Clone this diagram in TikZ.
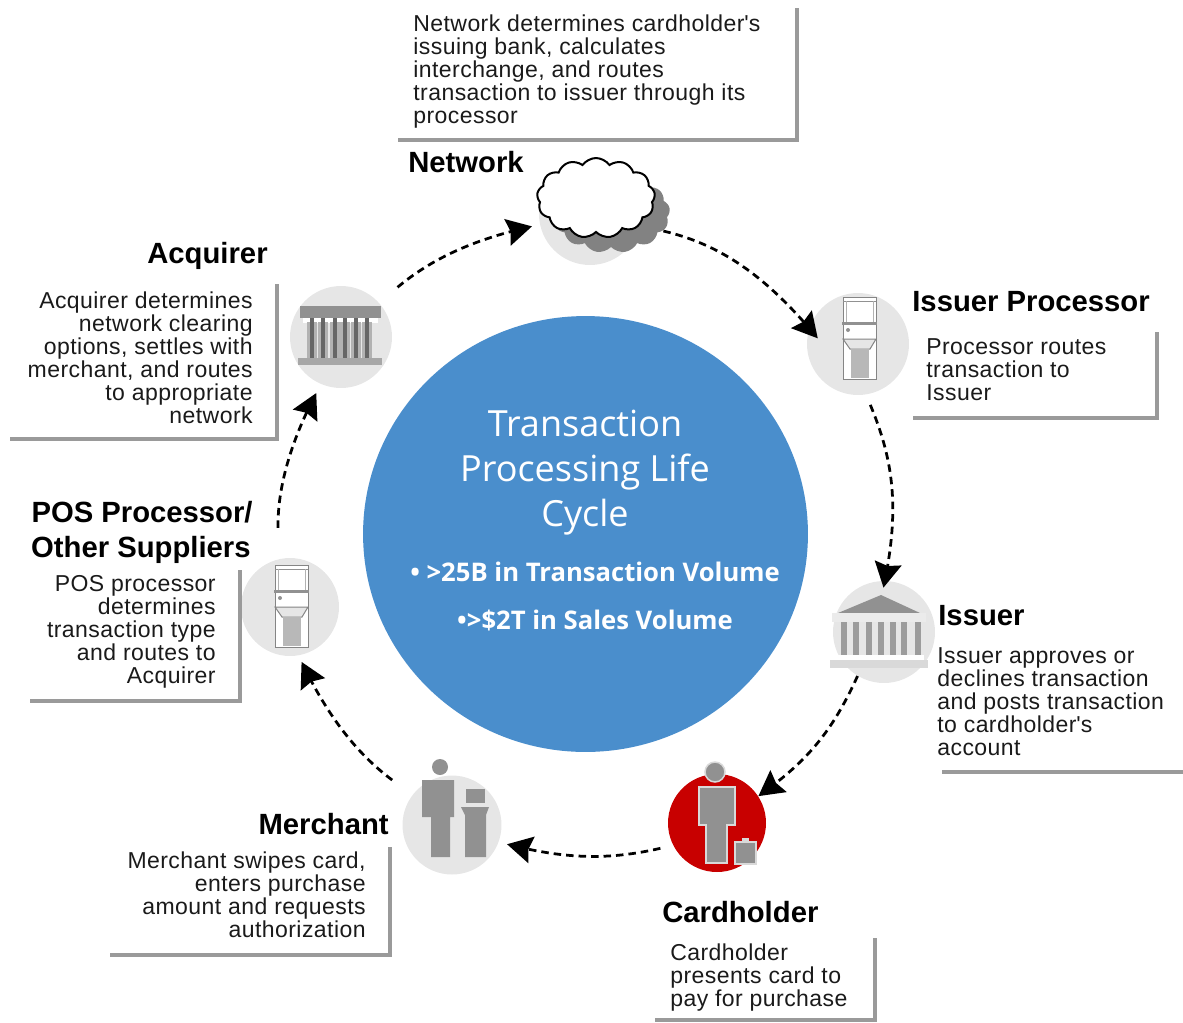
\documentclass[tikz,border=0pt]{standalone}
\usepackage{fontspec}
\setmainfont{Liberation Sans}
\newfontfamily\blurbfont[LetterSpace=1.9]{Liberation Sans}
\newfontfamily\hubfont{Open Sans}
\usetikzlibrary{arrows.meta,bending,shapes.geometric,shapes.symbols}
\definecolor{hubblue}{HTML}{4A8ECC}
\definecolor{discgray}{HTML}{E6E6E6}
\definecolor{icongray}{HTML}{919191}
\definecolor{icondark}{HTML}{666666}
\definecolor{framegray}{HTML}{9A9A9A}
\definecolor{cardred}{HTML}{C80000}
\definecolor{inkblack}{HTML}{1A1A1A}
\tikzset{
  icondisc/.style={circle, fill=discgray, inner sep=0pt, minimum size=2.04cm},
  flow/.style={-{Stealth[length=0.5cm,width=0.54cm,inset=0.06cm]}, line width=0.055cm, dash pattern=on 0.15cm off 0.1cm, black},
  frameline/.style={framegray, line width=0.09cm},
  heading/.style={anchor=base, inner sep=0pt, text=black, font=\fontsize{16.65}{19.9}\selectfont\bfseries},
  blurb/.style={inner sep=0pt, text=inkblack, font=\blurbfont\fontsize{13.1}{13.12}\selectfont},
  hubtext/.style={inner sep=0pt, text=white, anchor=base}
}
\newcommand{\kioskicon}[2]{
  \begin{scope}[shift={(#1,#2)}]
    \draw[icondark!80, fill=white, line width=0.02cm] (0,0) rectangle (33,82);
    \draw[icongray, line width=0.02cm] (0,4) -- (33,4);
    \draw[icongray!70, line width=0.02cm] (3,4) -- (3,25);
    \draw[icongray!70, line width=0.02cm] (30,4) -- (30,25);
    \fill[icongray] (-1,25) rectangle (34,28);
    \fill[icongray] (5,33) circle (2);
    \draw[icondark!80, fill=discgray, line width=0.02cm] (0,42) -- (33,42) -- (27,52) -- (7,52) -- cycle;
    \fill[icongray!65] (8,52) rectangle (26,81);
  \end{scope}
}
\begin{document}
\begin{tikzpicture}[x=0.02cm, y=-0.02cm]
  \useasboundingbox (0,0) rectangle (1183,1022);
  % hub
  \node[ellipse, fill=hubblue, inner sep=0pt, minimum width=8.9cm, minimum height=8.72cm] (hub) at (585.5,534) {};
  \node[hubtext, font=\hubfont\fontsize{20.5}{25}\selectfont] (hubtitlea) at (585,436) {Transaction};
  \node[hubtext, font=\hubfont\fontsize{20.5}{25}\selectfont] (hubtitleb) at (585,481) {Processing Life};
  \node[hubtext, font=\hubfont\fontsize{20.5}{25}\selectfont] (hubtitlec) at (585,526) {Cycle};
  \node[hubtext, font=\hubfont\fontsize{14.6}{18}\selectfont\bfseries] (hubvolume) at (595,581) {• >25B in Transaction Volume};
  \node[hubtext, font=\hubfont\fontsize{14.6}{18}\selectfont\bfseries] (hubsales) at (595,629) {•>\$2T in Sales Volume};

  % discs
  \node[icondisc] (network) at (590,214) {};
  \node[icondisc] (issuerproc) at (858,344) {};
  \node[icondisc] (issuer) at (884,632) {};
  \node[icondisc, fill=cardred, minimum size=1.96cm] (cardholder) at (717,823) {};
  \node[icondisc, minimum size=1.98cm] (merchant) at (452,825) {};
  \node[icondisc, minimum size=1.96cm] (pos) at (290,607) {};
  \node[icondisc] (acquirer) at (341,337) {};

  % network cloud
  \node[cloud, cloud puffs=13, cloud puff arc=110, aspect=1.4, fill=icongray!90!black, inner sep=0pt, minimum width=2.36cm, minimum height=1.6cm] (cloudshade) at (611,213) {};
  \node[cloud, cloud puffs=13, cloud puff arc=110, aspect=1.4, draw=black, line width=0.04cm, fill=white, inner sep=0pt, minimum width=2.36cm, minimum height=1.6cm] (cloudtop) at (596,198) {};

  % bank acquirer
  \fill[white] (303,318) rectangle (378,323);
  \foreach \colx in {312,323,335,345,356,367} {
    \fill[icongray!70] (\colx-5,322) rectangle (\colx+5,358);
    \fill[icondark] (\colx-2,318) rectangle (\colx+2,358);
  }
  \fill[icongray] (300,306) rectangle (381,318);
  \fill[icongray!80] (298,358) rectangle (382,365);

  % bank issuer
  \fill[icongray] (881,595) -- (920,613) -- (838,613) -- cycle;
  \fill[white!92!black] (832,613) rectangle (926,622);
  \foreach \colx in {844,856,869,881,893,904,918} {
    \fill[icongray!90] (\colx-3,622) rectangle (\colx+3,655);
  }
  \fill[white] (836,655) rectangle (924,660);
  \fill[white!85!black] (830,660) rectangle (928,668);

  % kiosks
  \kioskicon{275}{565}
  \kioskicon{843}{297}

  % cardholder figure
  \draw[white!85!black, fill=icongray, line width=0.03cm] (715,772) circle (10);
  \draw[white!85!black, fill=icongray, line width=0.03cm] (699,787) -- (735,787) -- (735,825) -- (727,825) -- (727,863) -- (706,863) -- (706,825) -- (699,825) -- cycle;
  \fill[white!85!black] (742,838) rectangle (749,844);
  \draw[white!85!black, fill=icongray, line width=0.03cm] (735,842) rectangle (756,864);

  % merchant figure
  \fill[icongray] (440,767) circle (8);
  \fill[icongray] (422,780) -- (454,780) -- (454,817) -- (450,817) -- (450,857) -- (431,857) -- (431,817) -- (422,817) -- cycle;
  \fill[icongray] (466,789) rectangle (485,803);
  \fill[icongray] (461,807) -- (489,807) -- (486,815) -- (486,857) -- (465,857) -- (465,815) -- cycle;

  % cycle arrows
  \draw[flow, shorten <=0.48cm, shorten >=-0.26cm] (network.-13) to[bend left=18] (issuerproc.162);
  \draw[flow, shorten <=0.22cm, shorten >=-0.14cm] (issuerproc.-81) to[bend left=17] (issuer.89);
  \draw[flow] (issuer.239) to[bend left=15] (cardholder.33);
  \draw[flow, shorten <=0.26cm, shorten >=0.17cm] (cardholder.207) to[bend left=14] (merchant.-20);
  \draw[flow, shorten <=0.5cm, shorten >=0.14cm] (merchant.143) to[bend left=14] (pos.-80);
  \draw[flow, shorten <=0.62cm, shorten >=0.2cm] (pos.103) to[bend left=15] (acquirer.247);
  \draw[flow, shorten <=0.48cm, shorten >=0.16cm] (acquirer.42) to[bend left=14] (network.192);

  % frames
  \draw[frameline] (398,140) -- (797,140) -- (797,8);
  \draw[frameline] (10,439) -- (277,439) -- (277,284);
  \draw[frameline] (913,418) -- (1157,418) -- (1157,332);
  \draw[frameline] (30,701) -- (240,701) -- (240,570);
  \draw[frameline] (942,772) -- (1183,772);
  \draw[frameline] (110,955) -- (390,955) -- (390,847);
  \draw[frameline] (655,1020) -- (875,1020) -- (875,938);

  % headings
  \node[heading, anchor=base west] (networkhead) at (408,172) {Network};
  \node[heading, anchor=base east] (acquirerhead) at (268,263) {Acquirer};
  \node[heading, anchor=base west] (issuerprochead) at (912,311) {Issuer Processor};
  \node[heading, anchor=base east] (poshead) at (253,522) {POS Processor/};
  \node[heading, anchor=base east] (posheadb) at (251,557) {Other Suppliers};
  \node[heading, anchor=base west] (issuerhead) at (938,625) {Issuer};
  \node[heading, anchor=base east] (merchanthead) at (389,834) {Merchant};
  \node[heading, anchor=base west] (cardholderhead) at (662,922) {Cardholder};

  % blurbs
  \node[blurb, anchor=north west, align=left] (networktext) at (413,14) {Network determines cardholder\textquotesingle s\\issuing bank, calculates\\interchange, and routes\\transaction to issuer through its\\processor};
  \node[blurb, anchor=north east, align=right] (acquirertext) at (253,291) {Acquirer determines\\network clearing\\options, settles with\\merchant, and routes\\to appropriate\\network};
  \node[blurb, anchor=north west, align=left] (issuerproctext) at (926,338) {Processor routes\\transaction to\\Issuer};
  \node[blurb, anchor=north east, align=right] (postext) at (216,575) {POS processor\\determines\\transaction type\\and routes to\\Acquirer};
  \node[blurb, anchor=north west, align=left] (issuertext) at (937,647) {Issuer approves or\\declines transaction\\and posts transaction\\to cardholder\textquotesingle s\\account};
  \node[blurb, anchor=north east, align=right] (merchanttext) at (366,851) {Merchant swipes card,\\enters purchase\\amount and requests\\authorization};
  \node[blurb, anchor=north west, align=left] (cardholdertext) at (670,943) {Cardholder\\presents card to\\pay for purchase};
\end{tikzpicture}
\end{document}
